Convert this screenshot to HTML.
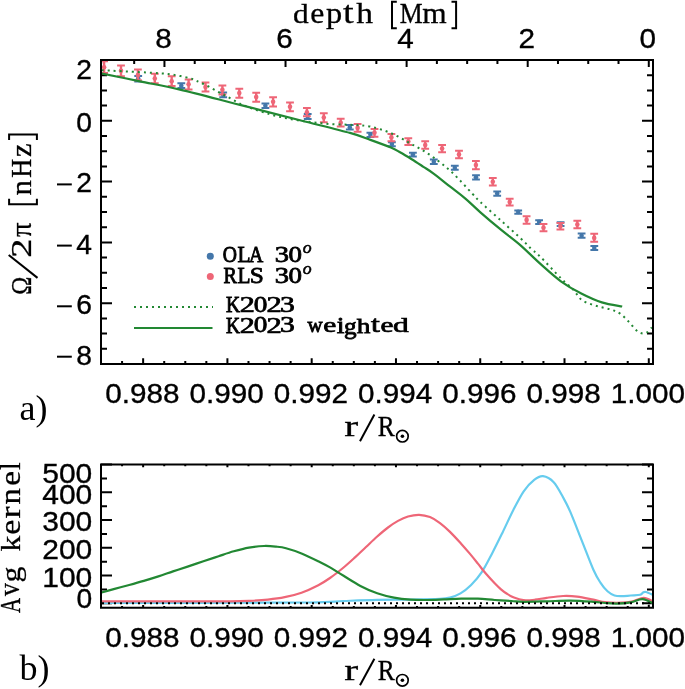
<!DOCTYPE html><html><head><meta charset="utf-8"><style>html,body{margin:0;padding:0;background:#fff}svg{display:block;will-change:transform}text{fill:#000}</style></head><body><svg width="685" height="689" viewBox="0 0 685 689">
<rect width="685" height="689" fill="#fff"/>
<defs><clipPath id="c1"><rect x="101.0" y="60.0" width="552.0" height="304.0"/></clipPath>
<clipPath id="c2"><rect x="101.0" y="464.6" width="552.0" height="143.1"/></clipPath></defs>
<path d="M101.00 60.00L112.00 60.00M653.00 60.00L642.00 60.00M101.00 75.20L107.00 75.20M653.00 75.20L647.00 75.20M101.00 90.40L107.00 90.40M653.00 90.40L647.00 90.40M101.00 105.60L107.00 105.60M653.00 105.60L647.00 105.60M101.00 120.80L112.00 120.80M653.00 120.80L642.00 120.80M101.00 136.00L107.00 136.00M653.00 136.00L647.00 136.00M101.00 151.20L107.00 151.20M653.00 151.20L647.00 151.20M101.00 166.40L107.00 166.40M653.00 166.40L647.00 166.40M101.00 181.60L112.00 181.60M653.00 181.60L642.00 181.60M101.00 196.80L107.00 196.80M653.00 196.80L647.00 196.80M101.00 212.00L107.00 212.00M653.00 212.00L647.00 212.00M101.00 227.20L107.00 227.20M653.00 227.20L647.00 227.20M101.00 242.40L112.00 242.40M653.00 242.40L642.00 242.40M101.00 257.60L107.00 257.60M653.00 257.60L647.00 257.60M101.00 272.80L107.00 272.80M653.00 272.80L647.00 272.80M101.00 288.00L107.00 288.00M653.00 288.00L647.00 288.00M101.00 303.20L112.00 303.20M653.00 303.20L642.00 303.20M101.00 318.40L107.00 318.40M653.00 318.40L647.00 318.40M101.00 333.60L107.00 333.60M653.00 333.60L647.00 333.60M101.00 348.80L107.00 348.80M653.00 348.80L647.00 348.80M101.00 364.00L112.00 364.00M653.00 364.00L642.00 364.00M122.07 364.00L122.07 361.00M122.07 607.70L122.07 606.00M122.07 464.60L122.07 466.30M143.14 364.00L143.14 358.20M143.14 607.70L143.14 605.10M143.14 464.60L143.14 467.20M164.21 364.00L164.21 361.00M164.21 607.70L164.21 606.00M164.21 464.60L164.21 466.30M185.27 364.00L185.27 361.00M185.27 607.70L185.27 606.00M185.27 464.60L185.27 466.30M206.34 364.00L206.34 361.00M206.34 607.70L206.34 606.00M206.34 464.60L206.34 466.30M227.41 364.00L227.41 358.20M227.41 607.70L227.41 605.10M227.41 464.60L227.41 467.20M248.48 364.00L248.48 361.00M248.48 607.70L248.48 606.00M248.48 464.60L248.48 466.30M269.55 364.00L269.55 361.00M269.55 607.70L269.55 606.00M269.55 464.60L269.55 466.30M290.62 364.00L290.62 361.00M290.62 607.70L290.62 606.00M290.62 464.60L290.62 466.30M311.69 364.00L311.69 358.20M311.69 607.70L311.69 605.10M311.69 464.60L311.69 467.20M332.76 364.00L332.76 361.00M332.76 607.70L332.76 606.00M332.76 464.60L332.76 466.30M353.82 364.00L353.82 361.00M353.82 607.70L353.82 606.00M353.82 464.60L353.82 466.30M374.89 364.00L374.89 361.00M374.89 607.70L374.89 606.00M374.89 464.60L374.89 466.30M395.96 364.00L395.96 358.20M395.96 607.70L395.96 605.10M395.96 464.60L395.96 467.20M417.03 364.00L417.03 361.00M417.03 607.70L417.03 606.00M417.03 464.60L417.03 466.30M438.10 364.00L438.10 361.00M438.10 607.70L438.10 606.00M438.10 464.60L438.10 466.30M459.17 364.00L459.17 361.00M459.17 607.70L459.17 606.00M459.17 464.60L459.17 466.30M480.24 364.00L480.24 358.20M480.24 607.70L480.24 605.10M480.24 464.60L480.24 467.20M501.31 364.00L501.31 361.00M501.31 607.70L501.31 606.00M501.31 464.60L501.31 466.30M522.37 364.00L522.37 361.00M522.37 607.70L522.37 606.00M522.37 464.60L522.37 466.30M543.44 364.00L543.44 361.00M543.44 607.70L543.44 606.00M543.44 464.60L543.44 466.30M564.51 364.00L564.51 358.20M564.51 607.70L564.51 605.10M564.51 464.60L564.51 467.20M585.58 364.00L585.58 361.00M585.58 607.70L585.58 606.00M585.58 464.60L585.58 466.30M606.65 364.00L606.65 361.00M606.65 607.70L606.65 606.00M606.65 464.60L606.65 466.30M627.72 364.00L627.72 361.00M627.72 607.70L627.72 606.00M627.72 464.60L627.72 466.30M648.79 364.00L648.79 358.20M648.79 607.70L648.79 605.10M648.79 464.60L648.79 467.20M648.79 60.00L648.79 67.00M618.52 60.00L618.52 64.00M588.24 60.00L588.24 64.00M557.97 60.00L557.97 64.00M527.70 60.00L527.70 67.00M497.43 60.00L497.43 64.00M467.16 60.00L467.16 64.00M436.89 60.00L436.89 64.00M406.62 60.00L406.62 67.00M376.35 60.00L376.35 64.00M346.08 60.00L346.08 64.00M315.80 60.00L315.80 64.00M285.53 60.00L285.53 67.00M255.26 60.00L255.26 64.00M224.99 60.00L224.99 64.00M194.72 60.00L194.72 64.00M164.45 60.00L164.45 67.00M134.18 60.00L134.18 64.00M103.91 60.00L103.91 64.00M101.00 603.30L112.00 603.30M653.00 603.30L642.00 603.30M101.00 589.42L107.00 589.42M653.00 589.42L647.00 589.42M101.00 575.55L112.00 575.55M653.00 575.55L642.00 575.55M101.00 561.67L107.00 561.67M653.00 561.67L647.00 561.67M101.00 547.80L112.00 547.80M653.00 547.80L642.00 547.80M101.00 533.92L107.00 533.92M653.00 533.92L647.00 533.92M101.00 520.05L112.00 520.05M653.00 520.05L642.00 520.05M101.00 506.17L107.00 506.17M653.00 506.17L647.00 506.17M101.00 492.30L112.00 492.30M653.00 492.30L642.00 492.30M101.00 478.42L107.00 478.42M653.00 478.42L647.00 478.42M101.00 464.55L112.00 464.55M653.00 464.55L642.00 464.55" fill="none" stroke="#000" stroke-width="2"/>
<g clip-path="url(#c1)">
<g stroke="#4477AA" fill="#4477AA"><path stroke-width="2.4" d="M138.2 76.1V81.5"/><path stroke-width="2" d="M134.3 76.1H142.1M134.3 81.5H142.1"/><circle cx="138.2" cy="78.5" r="2.3" stroke="none"/></g>
<g stroke="#4477AA" fill="#4477AA"><path stroke-width="2.4" d="M181.3 83.3V88.0"/><path stroke-width="2" d="M177.4 83.3H185.2M177.4 88.0H185.2"/><circle cx="181.3" cy="85.7" r="2.3" stroke="none"/></g>
<g stroke="#4477AA" fill="#4477AA"><path stroke-width="2.4" d="M223.2 92.5V97.2"/><path stroke-width="2" d="M219.3 92.5H227.1M219.3 97.2H227.1"/><circle cx="223.2" cy="94.9" r="2.3" stroke="none"/></g>
<g stroke="#4477AA" fill="#4477AA"><path stroke-width="2.4" d="M265.4 103.4V108.1"/><path stroke-width="2" d="M261.5 103.4H269.3M261.5 108.1H269.3"/><circle cx="265.4" cy="105.8" r="2.3" stroke="none"/></g>
<g stroke="#4477AA" fill="#4477AA"><path stroke-width="2.4" d="M307.7 114.0V119.0"/><path stroke-width="2" d="M303.8 114.0H311.6M303.8 119.0H311.6"/><circle cx="307.7" cy="116.6" r="2.3" stroke="none"/></g>
<g stroke="#4477AA" fill="#4477AA"><path stroke-width="2.4" d="M349.8 125.1V129.6"/><path stroke-width="2" d="M345.9 125.1H353.7M345.9 129.6H353.7"/><circle cx="349.8" cy="127.4" r="2.3" stroke="none"/></g>
<g stroke="#4477AA" fill="#4477AA"><path stroke-width="2.4" d="M370.4 132.8V137.1"/><path stroke-width="2" d="M366.5 132.8H374.3M366.5 137.1H374.3"/><circle cx="370.4" cy="134.7" r="2.3" stroke="none"/></g>
<g stroke="#4477AA" fill="#4477AA"><path stroke-width="2.4" d="M391.9 142.2V146.3"/><path stroke-width="2" d="M388.0 142.2H395.8M388.0 146.3H395.8"/><circle cx="391.9" cy="143.9" r="2.3" stroke="none"/></g>
<g stroke="#4477AA" fill="#4477AA"><path stroke-width="2.4" d="M412.9 152.8V156.5"/><path stroke-width="2" d="M409.0 152.8H416.8M409.0 156.5H416.8"/><circle cx="412.9" cy="154.6" r="2.3" stroke="none"/></g>
<g stroke="#4477AA" fill="#4477AA"><path stroke-width="2.4" d="M433.8 159.6V164.1"/><path stroke-width="2" d="M429.9 159.6H437.7M429.9 164.1H437.7"/><circle cx="433.8" cy="161.7" r="2.3" stroke="none"/></g>
<g stroke="#4477AA" fill="#4477AA"><path stroke-width="2.4" d="M454.8 165.7V169.8"/><path stroke-width="2" d="M450.9 165.7H458.7M450.9 169.8H458.7"/><circle cx="454.8" cy="167.9" r="2.3" stroke="none"/></g>
<g stroke="#4477AA" fill="#4477AA"><path stroke-width="2.4" d="M476.0 175.2V179.6"/><path stroke-width="2" d="M472.1 175.2H479.9M472.1 179.6H479.9"/><circle cx="476.0" cy="177.3" r="2.3" stroke="none"/></g>
<g stroke="#4477AA" fill="#4477AA"><path stroke-width="2.4" d="M497.2 191.6V195.7"/><path stroke-width="2" d="M493.3 191.6H501.1M493.3 195.7H501.1"/><circle cx="497.2" cy="193.5" r="2.3" stroke="none"/></g>
<g stroke="#4477AA" fill="#4477AA"><path stroke-width="2.4" d="M518.2 210.4V213.7"/><path stroke-width="2" d="M514.3 210.4H522.1M514.3 213.7H522.1"/><circle cx="518.2" cy="211.9" r="2.3" stroke="none"/></g>
<g stroke="#4477AA" fill="#4477AA"><path stroke-width="2.4" d="M539.1 220.2V223.9"/><path stroke-width="2" d="M535.2 220.2H543.0M535.2 223.9H543.0"/><circle cx="539.1" cy="221.9" r="2.3" stroke="none"/></g>
<g stroke="#4477AA" fill="#4477AA"><path stroke-width="2.4" d="M560.6 222.2V225.9"/><path stroke-width="2" d="M556.7 222.2H564.5M556.7 225.9H564.5"/><circle cx="560.6" cy="224.0" r="2.3" stroke="none"/></g>
<g stroke="#4477AA" fill="#4477AA"><path stroke-width="2.4" d="M581.6 233.5V237.8"/><path stroke-width="2" d="M577.7 233.5H585.5M577.7 237.8H585.5"/><circle cx="581.6" cy="235.8" r="2.3" stroke="none"/></g>
<g stroke="#4477AA" fill="#4477AA"><path stroke-width="2.4" d="M594.3 246.0V250.1"/><path stroke-width="2" d="M590.4 246.0H598.2M590.4 250.1H598.2"/><circle cx="594.3" cy="248.0" r="2.3" stroke="none"/></g>
<g stroke="#EE6677" fill="#EE6677"><path stroke-width="2.4" d="M104.1 61.2V73.0"/><path stroke-width="2" d="M100.2 61.2H108.0M100.2 73.0H108.0"/><circle cx="104.1" cy="67.3" r="2.3" stroke="none"/></g>
<g stroke="#EE6677" fill="#EE6677"><path stroke-width="2.4" d="M121.0 65.6V76.2"/><path stroke-width="2" d="M117.1 65.6H124.9M117.1 76.2H124.9"/><circle cx="121.0" cy="70.8" r="2.3" stroke="none"/></g>
<g stroke="#EE6677" fill="#EE6677"><path stroke-width="2.4" d="M137.9 69.6V80.2"/><path stroke-width="2" d="M134.0 69.6H141.8M134.0 80.2H141.8"/><circle cx="137.9" cy="75.0" r="2.3" stroke="none"/></g>
<g stroke="#EE6677" fill="#EE6677"><path stroke-width="2.4" d="M154.8 73.8V83.2"/><path stroke-width="2" d="M150.9 73.8H158.7M150.9 83.2H158.7"/><circle cx="154.8" cy="78.5" r="2.3" stroke="none"/></g>
<g stroke="#EE6677" fill="#EE6677"><path stroke-width="2.4" d="M171.7 76.3V86.0"/><path stroke-width="2" d="M167.8 76.3H175.6M167.8 86.0H175.6"/><circle cx="171.7" cy="81.2" r="2.3" stroke="none"/></g>
<g stroke="#EE6677" fill="#EE6677"><path stroke-width="2.4" d="M188.6 79.4V89.4"/><path stroke-width="2" d="M184.7 79.4H192.5M184.7 89.4H192.5"/><circle cx="188.6" cy="84.2" r="2.3" stroke="none"/></g>
<g stroke="#EE6677" fill="#EE6677"><path stroke-width="2.4" d="M205.5 82.5V91.5"/><path stroke-width="2" d="M201.6 82.5H209.4M201.6 91.5H209.4"/><circle cx="205.5" cy="87.1" r="2.3" stroke="none"/></g>
<g stroke="#EE6677" fill="#EE6677"><path stroke-width="2.4" d="M222.4 85.5V94.6"/><path stroke-width="2" d="M218.5 85.5H226.3M218.5 94.6H226.3"/><circle cx="222.4" cy="89.7" r="2.3" stroke="none"/></g>
<g stroke="#EE6677" fill="#EE6677"><path stroke-width="2.4" d="M239.3 88.8V97.7"/><path stroke-width="2" d="M235.4 88.8H243.2M235.4 97.7H243.2"/><circle cx="239.3" cy="93.1" r="2.3" stroke="none"/></g>
<g stroke="#EE6677" fill="#EE6677"><path stroke-width="2.4" d="M256.2 92.8V101.8"/><path stroke-width="2" d="M252.3 92.8H260.1M252.3 101.8H260.1"/><circle cx="256.2" cy="97.0" r="2.3" stroke="none"/></g>
<g stroke="#EE6677" fill="#EE6677"><path stroke-width="2.4" d="M273.1 97.3V106.5"/><path stroke-width="2" d="M269.2 97.3H277.0M269.2 106.5H277.0"/><circle cx="273.1" cy="101.7" r="2.3" stroke="none"/></g>
<g stroke="#EE6677" fill="#EE6677"><path stroke-width="2.4" d="M290.0 102.4V111.2"/><path stroke-width="2" d="M286.1 102.4H293.9M286.1 111.2H293.9"/><circle cx="290.0" cy="106.8" r="2.3" stroke="none"/></g>
<g stroke="#EE6677" fill="#EE6677"><path stroke-width="2.4" d="M306.9 108.1V116.2"/><path stroke-width="2" d="M303.0 108.1H310.8M303.0 116.2H310.8"/><circle cx="306.9" cy="112.3" r="2.3" stroke="none"/></g>
<g stroke="#EE6677" fill="#EE6677"><path stroke-width="2.4" d="M323.8 113.2V122.2"/><path stroke-width="2" d="M319.9 113.2H327.7M319.9 122.2H327.7"/><circle cx="323.8" cy="117.6" r="2.3" stroke="none"/></g>
<g stroke="#EE6677" fill="#EE6677"><path stroke-width="2.4" d="M340.7 118.8V126.5"/><path stroke-width="2" d="M336.8 118.8H344.6M336.8 126.5H344.6"/><circle cx="340.7" cy="122.7" r="2.3" stroke="none"/></g>
<g stroke="#EE6677" fill="#EE6677"><path stroke-width="2.4" d="M357.6 124.1V131.8"/><path stroke-width="2" d="M353.7 124.1H361.5M353.7 131.8H361.5"/><circle cx="357.6" cy="127.9" r="2.3" stroke="none"/></g>
<g stroke="#EE6677" fill="#EE6677"><path stroke-width="2.4" d="M374.5 128.9V136.8"/><path stroke-width="2" d="M370.6 128.9H378.4M370.6 136.8H378.4"/><circle cx="374.5" cy="132.7" r="2.3" stroke="none"/></g>
<g stroke="#EE6677" fill="#EE6677"><path stroke-width="2.4" d="M391.4 134.0V141.2"/><path stroke-width="2" d="M387.5 134.0H395.3M387.5 141.2H395.3"/><circle cx="391.4" cy="137.4" r="2.3" stroke="none"/></g>
<g stroke="#EE6677" fill="#EE6677"><path stroke-width="2.4" d="M408.3 138.2V145.1"/><path stroke-width="2" d="M404.4 138.2H412.2M404.4 145.1H412.2"/><circle cx="408.3" cy="141.5" r="2.3" stroke="none"/></g>
<g stroke="#EE6677" fill="#EE6677"><path stroke-width="2.4" d="M425.2 141.2V148.7"/><path stroke-width="2" d="M421.3 141.2H429.1M421.3 148.7H429.1"/><circle cx="425.2" cy="145.0" r="2.3" stroke="none"/></g>
<g stroke="#EE6677" fill="#EE6677"><path stroke-width="2.4" d="M442.1 144.9V152.3"/><path stroke-width="2" d="M438.2 144.9H446.0M438.2 152.3H446.0"/><circle cx="442.1" cy="148.6" r="2.3" stroke="none"/></g>
<g stroke="#EE6677" fill="#EE6677"><path stroke-width="2.4" d="M459.0 150.8V158.3"/><path stroke-width="2" d="M455.1 150.8H462.9M455.1 158.3H462.9"/><circle cx="459.0" cy="154.4" r="2.3" stroke="none"/></g>
<g stroke="#EE6677" fill="#EE6677"><path stroke-width="2.4" d="M475.9 161.0V169.2"/><path stroke-width="2" d="M472.0 161.0H479.8M472.0 169.2H479.8"/><circle cx="475.9" cy="165.0" r="2.3" stroke="none"/></g>
<g stroke="#EE6677" fill="#EE6677"><path stroke-width="2.4" d="M492.8 177.9V185.5"/><path stroke-width="2" d="M488.9 177.9H496.7M488.9 185.5H496.7"/><circle cx="492.8" cy="181.7" r="2.3" stroke="none"/></g>
<g stroke="#EE6677" fill="#EE6677"><path stroke-width="2.4" d="M509.7 198.8V205.5"/><path stroke-width="2" d="M505.8 198.8H513.6M505.8 205.5H513.6"/><circle cx="509.7" cy="202.1" r="2.3" stroke="none"/></g>
<g stroke="#EE6677" fill="#EE6677"><path stroke-width="2.4" d="M526.6 216.2V223.7"/><path stroke-width="2" d="M522.7 216.2H530.5M522.7 223.7H530.5"/><circle cx="526.6" cy="219.9" r="2.3" stroke="none"/></g>
<g stroke="#EE6677" fill="#EE6677"><path stroke-width="2.4" d="M543.5 223.9V231.3"/><path stroke-width="2" d="M539.6 223.9H547.4M539.6 231.3H547.4"/><circle cx="543.5" cy="227.7" r="2.3" stroke="none"/></g>
<g stroke="#EE6677" fill="#EE6677"><path stroke-width="2.4" d="M560.4 223.0V229.6"/><path stroke-width="2" d="M556.5 223.0H564.3M556.5 229.6H564.3"/><circle cx="560.4" cy="226.3" r="2.3" stroke="none"/></g>
<g stroke="#EE6677" fill="#EE6677"><path stroke-width="2.4" d="M577.3 220.8V228.3"/><path stroke-width="2" d="M573.4 220.8H581.2M573.4 228.3H581.2"/><circle cx="577.3" cy="224.6" r="2.3" stroke="none"/></g>
<g stroke="#EE6677" fill="#EE6677"><path stroke-width="2.4" d="M594.2 233.8V241.7"/><path stroke-width="2" d="M590.3 233.8H598.1M590.3 241.7H598.1"/><circle cx="594.2" cy="237.9" r="2.3" stroke="none"/></g>
<path d="M101.80 70.20 C108.32 70.53 130.98 71.67 140.90 72.20 C150.82 72.73 156.02 73.00 161.30 73.40 C166.58 73.80 167.93 73.82 172.60 74.60 C177.27 75.38 185.35 77.07 189.30 78.10 C193.25 79.13 193.53 79.63 196.30 80.80 C199.07 81.97 202.55 83.42 205.90 85.10 C209.25 86.78 212.90 89.00 216.40 90.90 C219.90 92.80 223.38 94.60 226.90 96.50 C230.42 98.40 234.13 100.62 237.50 102.30 C240.87 103.98 241.70 104.60 247.10 106.60 C252.50 108.60 262.53 112.20 269.90 114.30 C277.27 116.40 284.33 117.90 291.30 119.20 C298.27 120.50 304.88 121.27 311.70 122.10 C318.52 122.93 325.38 123.73 332.20 124.20 C339.02 124.67 346.23 124.50 352.60 124.90 C358.97 125.30 364.02 125.23 370.40 126.60 C376.78 127.97 384.08 130.22 390.90 133.10 C397.72 135.98 404.48 140.05 411.30 143.90 C418.12 147.75 424.98 151.42 431.80 156.20 C438.62 160.98 445.40 166.30 452.20 172.60 C459.00 178.90 467.90 189.08 472.60 194.00 C477.30 198.92 475.68 197.68 480.40 202.10 C485.12 206.52 494.08 214.37 500.90 220.50 C507.72 226.63 516.20 234.13 521.30 238.90 C526.40 243.67 528.32 246.12 531.50 249.10 C534.68 252.08 535.50 251.95 540.40 256.80 C545.30 261.65 555.45 272.75 560.90 278.20 C566.35 283.65 569.70 285.92 573.10 289.50 C576.50 293.08 578.23 297.22 581.30 299.70 C584.37 302.18 588.08 303.13 591.50 304.40 C594.92 305.67 598.38 306.38 601.80 307.30 C605.22 308.22 608.95 308.85 612.00 309.90 C615.05 310.95 617.38 311.72 620.10 313.60 C622.82 315.48 625.57 318.40 628.30 321.20 C631.03 324.00 634.12 328.37 636.50 330.40 C638.88 332.43 640.73 333.13 642.60 333.40 C644.47 333.67 646.17 333.02 647.70 332.00 C649.23 330.98 651.12 328.08 651.80 327.30" fill="none" stroke="#228833" stroke-width="2" stroke-dasharray="2 4"/>
<path d="M100.00 73.10 C106.67 74.47 126.67 78.55 140.00 81.30 C153.33 84.05 163.33 85.67 180.00 89.60 C196.67 93.53 220.00 99.80 240.00 104.90 C260.00 110.00 281.67 115.53 300.00 120.20 C318.33 124.87 338.27 129.62 350.00 132.90 C361.73 136.18 363.58 137.45 370.40 139.90 C377.22 142.35 385.97 145.55 390.90 147.60 C395.83 149.65 396.53 150.27 400.00 152.20 C403.47 154.13 407.80 156.77 411.70 159.20 C415.60 161.63 419.70 164.37 423.40 166.80 C427.10 169.23 429.43 170.48 433.90 173.80 C438.37 177.12 444.95 182.57 450.20 186.70 C455.45 190.83 460.37 194.33 465.40 198.60 C470.43 202.87 474.48 207.12 480.40 212.30 C486.32 217.48 494.30 224.27 500.90 229.70 C507.50 235.13 513.42 239.20 520.00 244.90 C526.58 250.60 533.58 257.83 540.40 263.90 C547.22 269.97 554.08 276.35 560.90 281.30 C567.72 286.25 574.48 290.08 581.30 293.60 C588.12 297.12 594.98 300.25 601.80 302.40 C608.62 304.55 618.80 305.82 622.20 306.50" fill="none" stroke="#228833" stroke-width="2.2"/>
</g>
<g clip-path="url(#c2)" fill="none" stroke-width="2.2">
<path d="M100.00 603.00 C116.67 602.97 165.00 602.88 200.00 602.80 C235.00 602.72 286.07 602.80 310.00 602.50 C333.93 602.20 332.40 601.45 343.60 601.00 C354.80 600.55 366.02 600.03 377.20 599.80 C388.38 599.57 400.23 599.75 410.70 599.60 C421.17 599.45 433.45 599.23 440.00 598.90 C446.55 598.57 446.58 598.52 450.00 597.60 C453.42 596.68 456.98 595.50 460.50 593.40 C464.02 591.30 467.58 588.50 471.10 585.00 C474.62 581.50 478.10 577.67 481.60 572.40 C485.10 567.13 488.60 560.07 492.10 553.40 C495.60 546.73 499.08 539.58 502.60 532.40 C506.12 525.22 509.68 517.15 513.20 510.30 C516.72 503.45 520.20 496.37 523.70 491.30 C527.20 486.23 530.98 482.42 534.20 479.90 C537.42 477.38 539.75 475.82 543.00 476.20 C546.25 476.58 550.35 478.67 553.70 482.20 C557.05 485.73 560.37 492.53 563.10 497.40 C565.83 502.27 566.98 504.20 570.10 511.40 C573.22 518.60 577.92 530.87 581.80 540.60 C585.68 550.33 590.30 562.80 593.40 569.80 C596.50 576.80 598.05 579.02 600.40 582.60 C602.75 586.18 605.15 589.15 607.50 591.30 C609.85 593.45 612.17 594.68 614.50 595.50 C616.83 596.32 618.78 596.20 621.50 596.20 C624.22 596.20 627.68 595.73 630.80 595.50 C633.92 595.27 638.17 595.28 640.20 594.80 C642.23 594.32 642.03 593.07 643.00 592.60 C643.97 592.13 644.33 591.60 646.00 592.00 C647.67 592.40 651.83 594.50 653.00 595.00" stroke="#66CCEE"/>
<path d="M100.00 601.40 C113.33 601.40 158.33 601.42 180.00 601.40 C201.67 601.38 218.33 601.40 230.00 601.30 C241.67 601.20 243.68 601.08 250.00 600.80 C256.32 600.52 262.12 600.20 267.90 599.60 C273.68 599.00 279.10 598.35 284.70 597.20 C290.30 596.05 295.90 594.70 301.50 592.70 C307.10 590.70 313.55 587.65 318.30 585.20 C323.05 582.75 325.78 580.95 330.00 578.00 C334.22 575.05 339.43 570.93 343.60 567.50 C347.77 564.07 351.27 560.82 355.00 557.40 C358.73 553.98 362.30 550.48 366.00 547.00 C369.70 543.52 373.53 539.75 377.20 536.50 C380.87 533.25 384.53 530.10 388.00 527.50 C391.47 524.90 394.67 522.73 398.00 520.90 C401.33 519.07 404.48 517.52 408.00 516.50 C411.52 515.48 415.43 514.70 419.10 514.80 C422.77 514.90 426.52 515.72 430.00 517.10 C433.48 518.48 436.67 520.63 440.00 523.10 C443.33 525.57 446.48 528.47 450.00 531.90 C453.52 535.33 457.77 540.03 461.10 543.70 C464.43 547.37 467.20 550.58 470.00 553.90 C472.80 557.22 475.23 560.28 477.90 563.60 C480.57 566.92 483.20 570.53 486.00 573.80 C488.80 577.07 492.20 580.62 494.70 583.20 C497.20 585.78 498.95 587.53 501.00 589.30 C503.05 591.07 504.83 592.42 507.00 593.80 C509.17 595.18 511.27 596.53 514.00 597.60 C516.73 598.67 519.90 599.85 523.40 600.20 C526.90 600.55 531.12 600.10 535.00 599.70 C538.88 599.30 542.02 598.42 546.70 597.80 C551.38 597.18 558.03 596.20 563.10 596.00 C568.17 595.80 572.05 595.98 577.10 596.60 C582.15 597.22 588.73 598.77 593.40 599.70 C598.07 600.63 600.42 601.70 605.10 602.20 C609.78 602.70 616.83 602.87 621.50 602.70 C626.17 602.53 629.40 602.02 633.10 601.20 C636.80 600.38 640.38 597.78 643.70 597.80 C647.02 597.82 651.45 600.72 653.00 601.30" stroke="#EE6677"/>
<path d="M100.00 592.80 C102.43 592.15 109.73 590.20 114.60 588.90 C119.47 587.60 124.33 586.33 129.20 585.00 C134.07 583.67 138.93 582.33 143.80 580.90 C148.67 579.47 153.53 577.98 158.40 576.40 C163.27 574.82 168.13 573.03 173.00 571.40 C177.87 569.77 182.53 568.28 187.60 566.60 C192.67 564.92 198.23 563.03 203.40 561.30 C208.57 559.57 213.54 557.87 218.60 556.20 C223.66 554.53 228.70 552.73 233.75 551.30 C238.80 549.87 243.84 548.48 248.90 547.60 C253.96 546.72 259.58 546.17 264.10 546.00 C268.62 545.83 272.35 546.23 276.00 546.60 C279.65 546.97 281.75 547.07 286.00 548.20 C290.25 549.33 295.80 551.07 301.50 553.40 C307.20 555.73 315.45 559.87 320.20 562.20 C324.95 564.53 326.10 565.13 330.00 567.40 C333.90 569.67 338.53 572.72 343.60 575.80 C348.67 578.88 354.80 582.98 360.40 585.90 C366.00 588.82 371.60 591.33 377.20 593.30 C382.80 595.27 388.42 596.63 394.00 597.70 C399.58 598.77 405.12 599.32 410.70 599.70 C416.28 600.08 421.90 600.05 427.50 600.00 C433.10 599.95 438.70 599.62 444.30 599.40 C449.90 599.18 455.50 598.82 461.10 598.70 C466.70 598.58 472.30 598.48 477.90 598.70 C483.50 598.92 489.10 599.62 494.70 600.00 C500.30 600.38 506.72 600.70 511.50 601.00 C516.28 601.30 517.53 601.75 523.40 601.80 C529.27 601.85 538.92 601.50 546.70 601.30 C554.48 601.10 562.32 600.52 570.10 600.60 C577.88 600.68 587.58 601.40 593.40 601.80 C599.22 602.20 601.10 602.70 605.00 603.00 C608.90 603.30 612.50 603.72 616.80 603.60 C621.10 603.48 626.52 603.03 630.80 602.30 C635.08 601.57 638.80 599.03 642.50 599.20 C646.20 599.37 651.25 602.62 653.00 603.30" stroke="#228833"/>
<path d="M102.0 603.3H653.0" stroke="#000" stroke-width="2" stroke-dasharray="2 4"/>
</g>
<path d="M101.0 60.0H653.0V364.0H101.0ZM101.0 464.6H653.0V607.7H101.0Z" fill="none" stroke="#000" stroke-width="2"/>
<text transform="translate(142.34 402.60) scale(1.060 1)" text-anchor="middle" font-family="Liberation Sans, sans-serif" font-size="28.0" stroke="#000" stroke-width="0.35">0.988</text>
<text transform="translate(142.34 647.00) scale(1.060 1)" text-anchor="middle" font-family="Liberation Sans, sans-serif" font-size="28.0" stroke="#000" stroke-width="0.35">0.988</text>
<text transform="translate(226.61 402.60) scale(1.060 1)" text-anchor="middle" font-family="Liberation Sans, sans-serif" font-size="28.0" stroke="#000" stroke-width="0.35">0.990</text>
<text transform="translate(226.61 647.00) scale(1.060 1)" text-anchor="middle" font-family="Liberation Sans, sans-serif" font-size="28.0" stroke="#000" stroke-width="0.35">0.990</text>
<text transform="translate(310.89 402.60) scale(1.060 1)" text-anchor="middle" font-family="Liberation Sans, sans-serif" font-size="28.0" stroke="#000" stroke-width="0.35">0.992</text>
<text transform="translate(310.89 647.00) scale(1.060 1)" text-anchor="middle" font-family="Liberation Sans, sans-serif" font-size="28.0" stroke="#000" stroke-width="0.35">0.992</text>
<text transform="translate(395.16 402.60) scale(1.060 1)" text-anchor="middle" font-family="Liberation Sans, sans-serif" font-size="28.0" stroke="#000" stroke-width="0.35">0.994</text>
<text transform="translate(395.16 647.00) scale(1.060 1)" text-anchor="middle" font-family="Liberation Sans, sans-serif" font-size="28.0" stroke="#000" stroke-width="0.35">0.994</text>
<text transform="translate(479.44 402.60) scale(1.060 1)" text-anchor="middle" font-family="Liberation Sans, sans-serif" font-size="28.0" stroke="#000" stroke-width="0.35">0.996</text>
<text transform="translate(479.44 647.00) scale(1.060 1)" text-anchor="middle" font-family="Liberation Sans, sans-serif" font-size="28.0" stroke="#000" stroke-width="0.35">0.996</text>
<text transform="translate(563.71 402.60) scale(1.060 1)" text-anchor="middle" font-family="Liberation Sans, sans-serif" font-size="28.0" stroke="#000" stroke-width="0.35">0.998</text>
<text transform="translate(563.71 647.00) scale(1.060 1)" text-anchor="middle" font-family="Liberation Sans, sans-serif" font-size="28.0" stroke="#000" stroke-width="0.35">0.998</text>
<text transform="translate(647.99 402.60) scale(1.060 1)" text-anchor="middle" font-family="Liberation Sans, sans-serif" font-size="28.0" stroke="#000" stroke-width="0.35">1.000</text>
<text transform="translate(647.99 647.00) scale(1.060 1)" text-anchor="middle" font-family="Liberation Sans, sans-serif" font-size="28.0" stroke="#000" stroke-width="0.35">1.000</text>
<text transform="translate(163.45 48.30) scale(1.060 1)" text-anchor="middle" font-family="Liberation Sans, sans-serif" font-size="28.0" stroke="#000" stroke-width="0.35">8</text>
<text transform="translate(284.53 48.30) scale(1.060 1)" text-anchor="middle" font-family="Liberation Sans, sans-serif" font-size="28.0" stroke="#000" stroke-width="0.35">6</text>
<text transform="translate(405.62 48.30) scale(1.060 1)" text-anchor="middle" font-family="Liberation Sans, sans-serif" font-size="28.0" stroke="#000" stroke-width="0.35">4</text>
<text transform="translate(526.70 48.30) scale(1.060 1)" text-anchor="middle" font-family="Liberation Sans, sans-serif" font-size="28.0" stroke="#000" stroke-width="0.35">2</text>
<text transform="translate(647.79 48.30) scale(1.060 1)" text-anchor="middle" font-family="Liberation Sans, sans-serif" font-size="28.0" stroke="#000" stroke-width="0.35">0</text>
<text transform="translate(92.00 78.60) scale(1.030 1)" text-anchor="end" font-family="Liberation Sans, sans-serif" font-size="27.4" stroke="#000" stroke-width="0.35">2</text>
<text transform="translate(92.00 132.30) scale(1.030 1)" text-anchor="end" font-family="Liberation Sans, sans-serif" font-size="27.4" stroke="#000" stroke-width="0.35">0</text>
<text transform="translate(92.00 192.40) scale(1.030 1)" text-anchor="end" font-family="Liberation Sans, sans-serif" font-size="27.4" stroke="#000" stroke-width="0.35">2</text>
<path d="M57 184.4H71.8" stroke="#000" stroke-width="2"/>
<text transform="translate(92.00 253.60) scale(1.030 1)" text-anchor="end" font-family="Liberation Sans, sans-serif" font-size="27.4" stroke="#000" stroke-width="0.35">4</text>
<path d="M57 245.6H71.8" stroke="#000" stroke-width="2"/>
<text transform="translate(92.00 314.30) scale(1.030 1)" text-anchor="end" font-family="Liberation Sans, sans-serif" font-size="27.4" stroke="#000" stroke-width="0.35">6</text>
<path d="M57 306.3H71.8" stroke="#000" stroke-width="2"/>
<text transform="translate(92.00 364.70) scale(1.030 1)" text-anchor="end" font-family="Liberation Sans, sans-serif" font-size="27.4" stroke="#000" stroke-width="0.35">8</text>
<path d="M57 356.7H71.8" stroke="#000" stroke-width="2"/>
<text transform="translate(92.30 483.20) scale(1.095 1)" text-anchor="end" font-family="Liberation Sans, sans-serif" font-size="27.4" stroke="#000" stroke-width="0.35">500</text>
<text transform="translate(92.30 503.60) scale(1.095 1)" text-anchor="end" font-family="Liberation Sans, sans-serif" font-size="27.4" stroke="#000" stroke-width="0.35">400</text>
<text transform="translate(92.30 531.40) scale(1.095 1)" text-anchor="end" font-family="Liberation Sans, sans-serif" font-size="27.4" stroke="#000" stroke-width="0.35">300</text>
<text transform="translate(92.30 559.00) scale(1.095 1)" text-anchor="end" font-family="Liberation Sans, sans-serif" font-size="27.4" stroke="#000" stroke-width="0.35">200</text>
<text transform="translate(92.30 587.00) scale(1.095 1)" text-anchor="end" font-family="Liberation Sans, sans-serif" font-size="27.4" stroke="#000" stroke-width="0.35">100</text>
<text transform="translate(92.30 608.20) scale(1.030 1)" text-anchor="end" font-family="Liberation Sans, sans-serif" font-size="27.4" stroke="#000" stroke-width="0.35">0</text>
<text x="19.5" y="420" font-family="Liberation Serif, serif" font-size="36">a)</text>
<text x="19.5" y="679.5" font-family="Liberation Serif, serif" font-size="36">b)</text>
<text transform="translate(293.00 23.12) scale(0.3143 0.2823)" font-family="Liberation Serif, serif" font-size="100" stroke="#000" stroke-width="1.01">d</text><text transform="translate(310.19 23.11) scale(0.3173 0.2937)" font-family="Liberation Serif, serif" font-size="100" stroke="#000" stroke-width="0.98">e</text><text transform="translate(326.11 23.37) scale(0.3244 0.2993)" font-family="Liberation Serif, serif" font-size="100" stroke="#000" stroke-width="0.96">p</text><text transform="translate(343.02 23.18) scale(0.3849 0.3183)" font-family="Liberation Serif, serif" font-size="100" stroke="#000" stroke-width="0.86">t</text><text transform="translate(356.16 23.40) scale(0.3354 0.2863)" font-family="Liberation Serif, serif" font-size="100" stroke="#000" stroke-width="0.97">h</text><path d="M396.80 1.80H392.00V28.20H396.80" fill="none" stroke="#000" stroke-width="2"/><text transform="translate(399.76 23.30) scale(0.2575 0.2885)" font-family="Liberation Serif, serif" font-size="100" stroke="#000" stroke-width="1.10">M</text><text transform="translate(422.37 23.40) scale(0.3141 0.3000)" font-family="Liberation Serif, serif" font-size="100" stroke="#000" stroke-width="0.98">m</text><path d="M451.50 1.80H456.10V28.20H451.50" fill="none" stroke="#000" stroke-width="2"/>
<text transform="translate(344.36 435.80) scale(0.4197 0.3043)" font-family="Liberation Serif, serif" font-size="100" stroke="#000" stroke-width="0.84">r</text><text transform="translate(377.86 435.80) scale(0.2547 0.2870)" font-family="Liberation Serif, serif" font-size="100" stroke="#000" stroke-width="1.11">R</text>
<path d="M360.0 441.2L374.4 414.6" stroke="#000" stroke-width="2"/>
<circle cx="402.4" cy="436.2" r="5.8" fill="none" stroke="#000" stroke-width="1.7"/><circle cx="402.4" cy="436.2" r="1.8"/>
<text transform="translate(344.36 679.90) scale(0.4197 0.3043)" font-family="Liberation Serif, serif" font-size="100" stroke="#000" stroke-width="0.84">r</text><text transform="translate(377.86 679.90) scale(0.2547 0.2870)" font-family="Liberation Serif, serif" font-size="100" stroke="#000" stroke-width="1.11">R</text>
<path d="M360.0 685.3L374.4 658.7" stroke="#000" stroke-width="2"/>
<circle cx="402.4" cy="680.3" r="5.8" fill="none" stroke="#000" stroke-width="1.7"/><circle cx="402.4" cy="680.3" r="1.8"/>
<g transform="translate(-0.4 300) rotate(-90)">
<text transform="translate(5.18 31.70) scale(0.2434 0.3030)" font-family="Liberation Serif, serif" font-size="100" stroke="#000" stroke-width="1.10">Ω</text><text transform="translate(42.16 31.70) scale(0.3852 0.2924)" font-family="Liberation Serif, serif" font-size="100" stroke="#000" stroke-width="0.89">2</text><text transform="translate(62.91 31.41) scale(0.2854 0.2851)" font-family="Liberation Serif, serif" font-size="100" stroke="#000" stroke-width="1.05">π</text><path d="M101.20 9.50H95.70V37.30H101.20" fill="none" stroke="#000" stroke-width="2"/><text transform="translate(104.58 31.70) scale(0.3075 0.2851)" font-family="Liberation Serif, serif" font-size="100" stroke="#000" stroke-width="1.01">n</text><text transform="translate(122.14 31.70) scale(0.2627 0.2947)" font-family="Liberation Serif, serif" font-size="100" stroke="#000" stroke-width="1.08">H</text><text transform="translate(142.95 31.70) scale(0.3000 0.2913)" font-family="Liberation Serif, serif" font-size="100" stroke="#000" stroke-width="1.01">z</text><path d="M160.00 9.50H165.50V37.30H160.00" fill="none" stroke="#000" stroke-width="2"/>
<path d="M22.1 37.9L45.0 9.1" stroke="#000" stroke-width="2"/>
</g>
<g transform="translate(-0.6 620) rotate(-90)">
<text transform="translate(7.09 20.60) scale(0.2085 0.2909)" font-family="Liberation Serif, serif" font-size="100" stroke="#000" stroke-width="1.22">A</text><text transform="translate(24.00 19.71) scale(0.2580 0.2915)" font-family="Liberation Serif, serif" font-size="100" stroke="#000" stroke-width="1.09">v</text><text transform="translate(37.52 20.55) scale(0.3191 0.2767)" font-family="Liberation Serif, serif" font-size="100" stroke="#000" stroke-width="1.01">g</text><text transform="translate(68.52 20.50) scale(0.3175 0.2777)" font-family="Liberation Serif, serif" font-size="100" stroke="#000" stroke-width="1.01">k</text><text transform="translate(85.31 20.50) scale(0.3413 0.3021)" font-family="Liberation Serif, serif" font-size="100" stroke="#000" stroke-width="0.93">e</text><text transform="translate(101.47 20.60) scale(0.3639 0.3043)" font-family="Liberation Serif, serif" font-size="100" stroke="#000" stroke-width="0.90">r</text><text transform="translate(115.55 20.60) scale(0.3247 0.3043)" font-family="Liberation Serif, serif" font-size="100" stroke="#000" stroke-width="0.95">n</text><text transform="translate(134.13 20.50) scale(0.3333 0.3021)" font-family="Liberation Serif, serif" font-size="100" stroke="#000" stroke-width="0.95">e</text><text transform="translate(150.28 20.60) scale(0.2625 0.2849)" font-family="Liberation Serif, serif" font-size="100" stroke="#000" stroke-width="1.10">l</text>
</g>
<circle cx="210.3" cy="256.2" r="3.5" fill="#4477AA"/>
<circle cx="210.3" cy="276.6" r="3.5" fill="#EE6677"/>
<text transform="translate(222.71 261.67) scale(0.1969 0.2284)" font-family="Liberation Serif, serif" font-size="100" stroke="#000" stroke-width="4.01">O</text><text transform="translate(237.57 261.90) scale(0.2133 0.2336)" font-family="Liberation Serif, serif" font-size="100" stroke="#000" stroke-width="3.81">L</text><text transform="translate(249.10 261.90) scale(0.1972 0.2318)" font-family="Liberation Serif, serif" font-size="100" stroke="#000" stroke-width="3.98">A</text><text transform="translate(274.71 261.67) scale(0.2857 0.2284)" font-family="Liberation Serif, serif" font-size="100" stroke="#000" stroke-width="3.33">3</text><text transform="translate(288.56 261.67) scale(0.2698 0.2267)" font-family="Liberation Serif, serif" font-size="100" stroke="#000" stroke-width="3.44">0</text>
<text transform="translate(223.50 282.80) scale(0.2016 0.2336)" font-family="Liberation Serif, serif" font-size="100" stroke="#000" stroke-width="3.92">R</text><text transform="translate(237.57 282.80) scale(0.2133 0.2336)" font-family="Liberation Serif, serif" font-size="100" stroke="#000" stroke-width="3.81">L</text><text transform="translate(249.85 282.57) scale(0.2535 0.2284)" font-family="Liberation Serif, serif" font-size="100" stroke="#000" stroke-width="3.53">S</text><text transform="translate(274.71 282.57) scale(0.2857 0.2284)" font-family="Liberation Serif, serif" font-size="100" stroke="#000" stroke-width="3.33">3</text><text transform="translate(288.56 282.57) scale(0.2698 0.2267)" font-family="Liberation Serif, serif" font-size="100" stroke="#000" stroke-width="3.44">0</text>
<text transform="translate(302.77 252.62) scale(0.1773 0.1750)" font-family="Liberation Serif, serif" font-size="100" font-style="italic" stroke="#000" stroke-width="3.41">o</text>
<text transform="translate(302.77 273.52) scale(0.1773 0.1750)" font-family="Liberation Serif, serif" font-size="100" font-style="italic" stroke="#000" stroke-width="3.41">o</text>
<path d="M134 307.1H213" stroke="#228833" stroke-width="2" stroke-dasharray="2 4"/>
<path d="M134 328H212.5" stroke="#228833" stroke-width="2"/>
<text transform="translate(225.91 312.30) scale(0.1942 0.2290)" font-family="Liberation Serif, serif" font-size="100" stroke="#000" stroke-width="4.03">K</text><text transform="translate(239.80 312.30) scale(0.3012 0.2273)" font-family="Liberation Serif, serif" font-size="100" stroke="#000" stroke-width="3.25">2</text><text transform="translate(253.75 312.08) scale(0.2721 0.2222)" font-family="Liberation Serif, serif" font-size="100" stroke="#000" stroke-width="3.46">0</text><text transform="translate(266.38 312.30) scale(0.3062 0.2273)" font-family="Liberation Serif, serif" font-size="100" stroke="#000" stroke-width="3.22">2</text><text transform="translate(280.07 312.08) scale(0.2952 0.2239)" font-family="Liberation Serif, serif" font-size="100" stroke="#000" stroke-width="3.31">3</text>
<text transform="translate(225.91 332.60) scale(0.1942 0.2290)" font-family="Liberation Serif, serif" font-size="100" stroke="#000" stroke-width="4.03">K</text><text transform="translate(239.80 332.60) scale(0.3012 0.2273)" font-family="Liberation Serif, serif" font-size="100" stroke="#000" stroke-width="3.25">2</text><text transform="translate(253.75 332.38) scale(0.2721 0.2222)" font-family="Liberation Serif, serif" font-size="100" stroke="#000" stroke-width="3.46">0</text><text transform="translate(266.38 332.60) scale(0.3062 0.2273)" font-family="Liberation Serif, serif" font-size="100" stroke="#000" stroke-width="3.22">2</text><text transform="translate(280.07 332.38) scale(0.2952 0.2239)" font-family="Liberation Serif, serif" font-size="100" stroke="#000" stroke-width="3.31">3</text>
<text transform="translate(307.60 332.38) scale(0.2097 0.2170)" font-family="Liberation Serif, serif" font-size="100" stroke="#000" stroke-width="3.98">w</text><text transform="translate(323.27 332.39) scale(0.2933 0.2125)" font-family="Liberation Serif, serif" font-size="100" stroke="#000" stroke-width="3.40">e</text><text transform="translate(336.74 332.60) scale(0.2792 0.2286)" font-family="Liberation Serif, serif" font-size="100" stroke="#000" stroke-width="3.36">i</text><text transform="translate(343.99 333.97) scale(0.2517 0.2247)" font-family="Liberation Serif, serif" font-size="100" stroke="#000" stroke-width="3.57">g</text><text transform="translate(356.83 332.60) scale(0.2729 0.2187)" font-family="Liberation Serif, serif" font-size="100" stroke="#000" stroke-width="3.48">h</text><text transform="translate(370.98 332.37) scale(0.3170 0.2313)" font-family="Liberation Serif, serif" font-size="100" stroke="#000" stroke-width="3.14">t</text><text transform="translate(380.38 332.39) scale(0.2907 0.2125)" font-family="Liberation Serif, serif" font-size="100" stroke="#000" stroke-width="3.42">e</text><text transform="translate(392.90 332.38) scale(0.3143 0.2156)" font-family="Liberation Serif, serif" font-size="100" stroke="#000" stroke-width="3.27">d</text>
</svg></body></html>
